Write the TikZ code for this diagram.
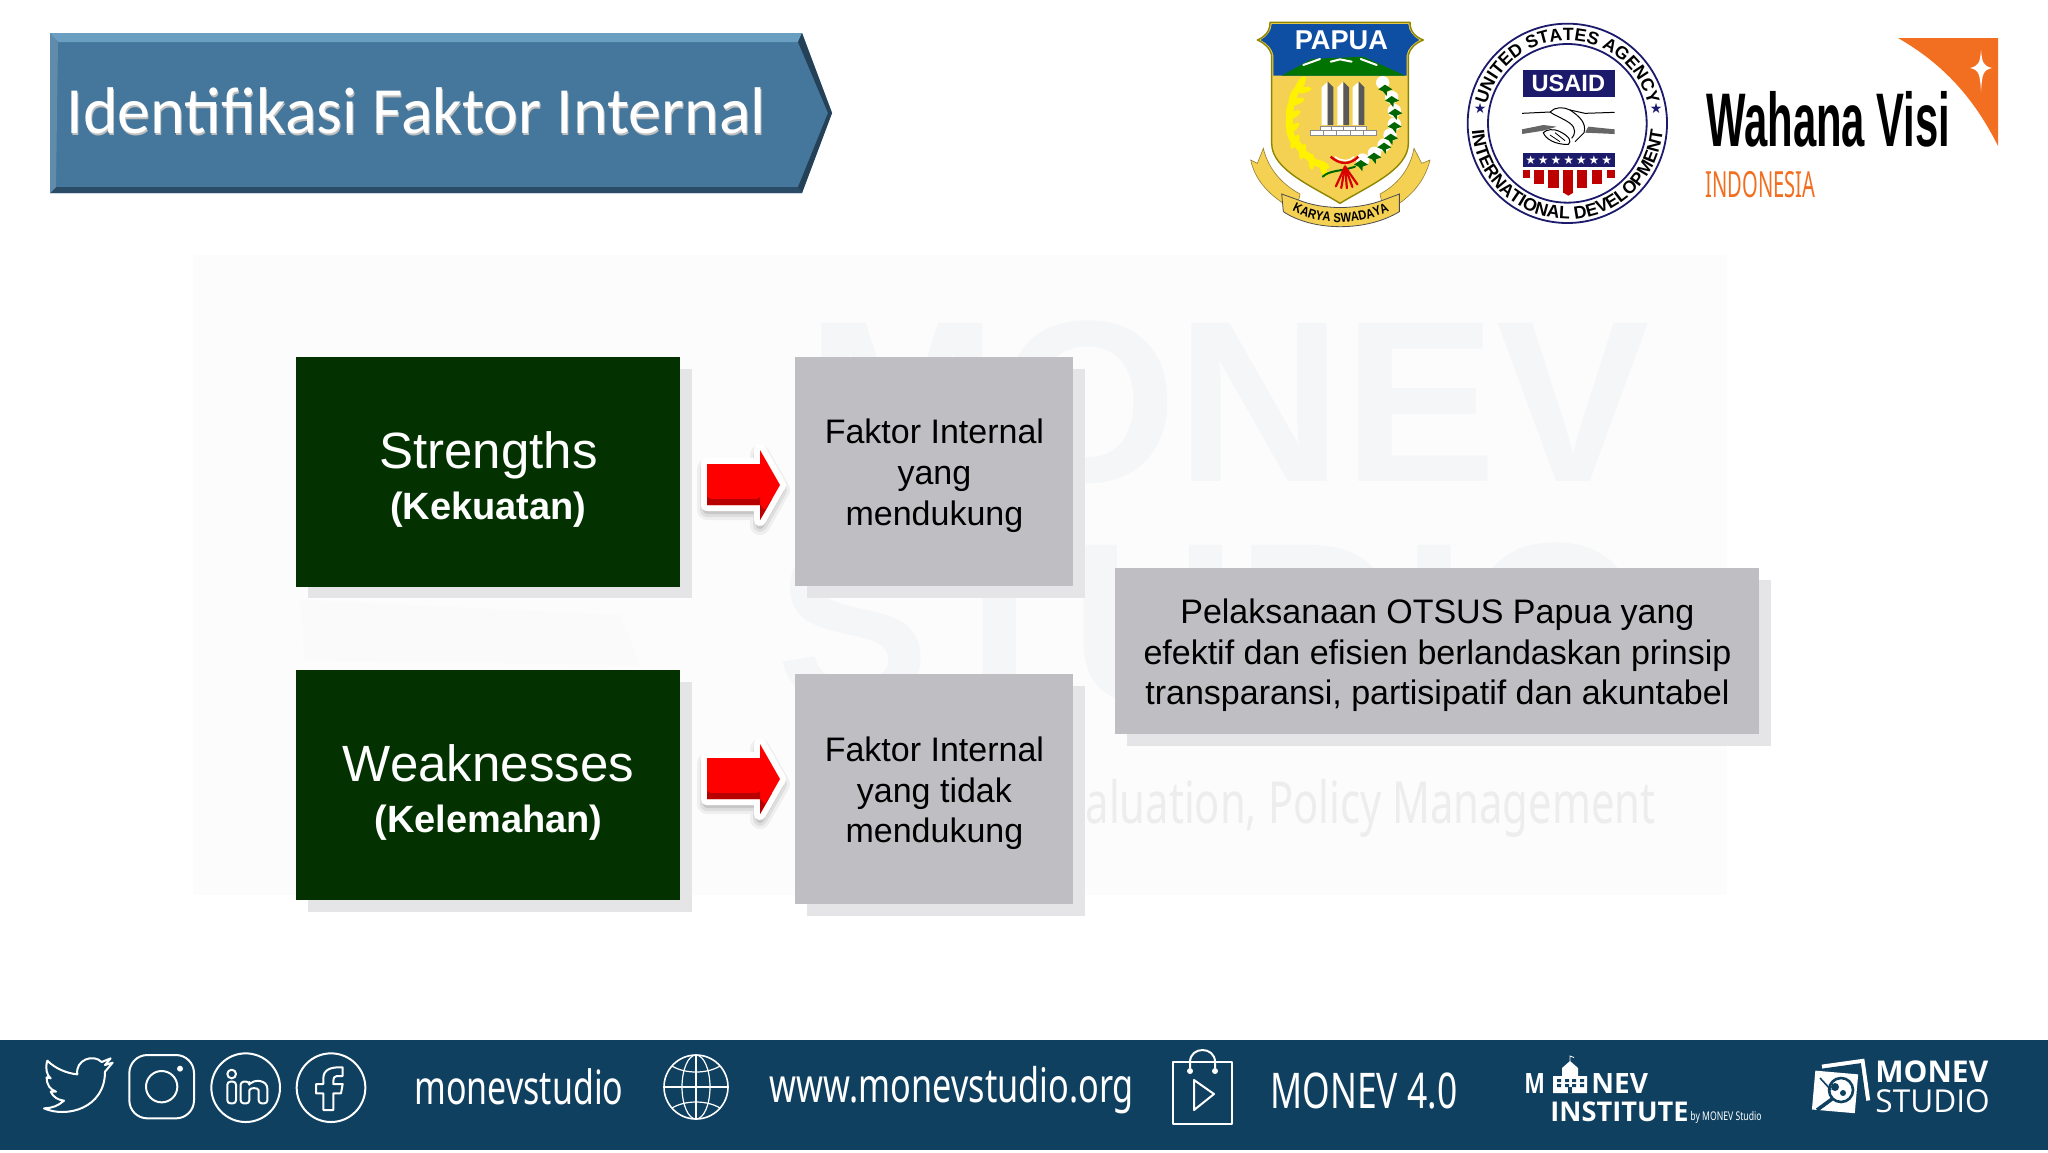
\documentclass[tikz,border=0pt]{standalone}
\usepackage{fontspec}
\usetikzlibrary{decorations.text,shapes.geometric}
\setmainfont{Liberation Sans}
\newfontfamily\ar{Liberation Sans}
\newfontfamily\car{Carlito}
\newfontfamily\cond[FakeStretch=0.72]{Noto Sans}
\newfontfamily\indfont[FakeStretch=0.56]{Noto Sans}
\newfontfamily\wvfont[FakeStretch=0.55]{Liberation Sans}
\newfontfamily\nar[FakeStretch=0.85]{Liberation Sans}
\newfontfamily\logoh{Open Sans}
\newfontfamily\djv{DejaVu Sans}
\newcommand{\fz}[1]{\fontsize{#1}{#1}\selectfont}
\newcommand{\lowerstrut}{\rule{0pt}{16.2pt}}
\newcommand{\bigstrut}{\rule{0pt}{25.5pt}}
\definecolor{barblue}{HTML}{0F4060}
\definecolor{titleblue}{HTML}{44779B}
\definecolor{titlelight}{HTML}{6A9FC2}
\definecolor{titledark}{HTML}{2B4C66}
\definecolor{boxgreen}{HTML}{033100}
\definecolor{boxgrey}{HTML}{BFBEC2}
\definecolor{shadowgrey}{HTML}{E5E5E7}
\definecolor{navy}{HTML}{1B1A6B}
\definecolor{shieldgold}{HTML}{F5D153}
\definecolor{shieldblue}{HTML}{0F4FA3}
\definecolor{orangewv}{HTML}{F26F21}
\definecolor{wm}{HTML}{F4F6F8}
\tikzset{
  greenbox/.style={fill=boxgreen,text=white,inner sep=0pt,align=center,minimum width=192pt,minimum height=115pt,anchor=north west,font=\ar\fontsize{19}{25.6}\selectfont},
  greybox/.style={fill=boxgrey,text=black,inner sep=0pt,align=center,anchor=north west,font=\ar\fontsize{17}{20.4}\selectfont},
  shadowbox/.style={fill=shadowgrey},
  iconline/.style={draw=white,line width=1pt,line join=round},
  bartext/.style={text=white,inner sep=0pt},
}
\newcommand{\blockarrow}[1]{%
  \begin{scope}[shift={(0,#1)}]
    \foreach \w/\o in {10/.05,7/.07,4/.1}{
      \path[draw=black,draw opacity=\o,line width=\w pt,line join=round] (707,469)--(760,469)--(760,455)--(780,490)--(760,525)--(760,510)--(707,510)--cycle;}
    \path[fill=white,draw=white,line width=6pt,line join=round] (707,464)--(760,464)--(760,450)--(780,485)--(760,520)--(760,505)--(707,505)--cycle;
    \path[fill=red] (707,464)--(760,464)--(760,450)--(780,485)--(760,520)--(760,505)--(707,505)--cycle;
    \path[fill=red!72!black] (707,497)--(711,499)--(757,499)--(760,497)--(760,505)--(707,505)--cycle;
    \path[fill=red!72!black] (760,520)--(760,505)--(765,510)--(772,499)--cycle;
  \end{scope}}
\begin{document}
\begin{tikzpicture}[x=0.5pt,y=-0.5pt]
\useasboundingbox (0,0) rectangle (2048,1152);
\fill[white] (0,0) rectangle (2048,1152);

% faint watermark
\fill[black!1.2] (193,255) rectangle (1727,895);
\fill[black!2] (300,600) -- (620,615) -- (640,665) -- (305,660) -- cycle;
\node[anchor=north west,inner sep=0pt,text=wm,font=\ar\bfseries\fz{115}] (wmA) at (806,320) {MONEV};
\node[anchor=north west,inner sep=0pt,text=wm,font=\ar\bfseries\fz{115}] (wmB) at (776,542) {STUDIO};
\node[anchor=east,inner sep=0pt,text=black!7,font=\cond\fz{29}] (wmC) at (1656,808) {Monitoring, Evaluation, Policy Management};

% title
\fill[titleblue] (50,33) -- (802,33) -- (832,113) -- (802,193) -- (50,193) -- cycle;
\fill[titlelight] (50,33) -- (802,33) -- (798,42) -- (58,42) -- cycle;
\fill[titledark] (50,193) -- (802,193) -- (798,187) -- (56,187) -- cycle;
\fill[titledark!85!black] (802,33) -- (832,113) -- (828,113) -- (798,42) -- cycle;
\fill[titledark!85!black] (802,193) -- (832,113) -- (828,113) -- (798,187) -- cycle;
\fill[titleblue!85!white] (50,33) -- (58,42) -- (56,187) -- (50,193) -- cycle;
\node[anchor=west,inner sep=0pt,text=black!25,font=\car\fz{33}] at (67,113) {Identifikasi Faktor Internal};
\node[anchor=west,inner sep=0pt,text=white,font=\car\fz{33}] (title) at (66,111) {Identifikasi Faktor Internal};

% boxes
\fill[shadowbox] (308,369) rectangle (692,598);
\fill[shadowbox] (308,682) rectangle (692,912);
\fill[shadowbox] (807,369) rectangle (1085,598);
\fill[shadowbox] (807,686) rectangle (1085,916);
\fill[shadowbox] (1127,580) rectangle (1771,746);
\node[greenbox] (s) at (296,357) {\bigstrut\fontsize{25.5}{25.6}\selectfont Strengths\\\bfseries\fontsize{19}{25.6}\selectfont(Kekuatan)};
\node[greenbox] (w) at (296,670) {\bigstrut\fontsize{25.5}{25.6}\selectfont Weaknesses\\\bfseries\fontsize{19}{25.6}\selectfont(Kelemahan)};
\node[greybox,minimum width=139pt,minimum height=114.5pt] (f1) at (795,357) {\lowerstrut Faktor Internal\\yang\\mendukung};
\node[greybox,minimum width=139pt,minimum height=115pt] (f2) at (795,674) {\lowerstrut Faktor Internal\\yang tidak\\mendukung};
\node[greybox,minimum width=322pt,minimum height=83pt] (p) at (1115,568) {\lowerstrut Pelaksanaan OTSUS Papua yang\\efektif dan efisien berlandaskan prinsip\\transparansi, partisipatif dan akuntabel};

\blockarrow{0}
\blockarrow{294}

% Papua crest
\begin{scope}[shift={(1240,10)},x=0.16667pt,y=-0.16667pt]
  \path[fill=shieldgold,draw=black!40!shieldgold,line width=.3pt] (32,450) -- (52,460) -- (70,415) .. controls (85,480) and (130,525) .. (180,552) -- (175,575) -- (130,580) .. controls (85,550) and (45,510) .. (32,450) -- cycle;
  \path[fill=shieldgold,draw=black!40!shieldgold,line width=.3pt] (570,450) -- (545,460) -- (522,415) .. controls (510,480) and (470,525) .. (420,552) -- (425,575) -- (478,580) .. controls (520,550) and (555,510) .. (570,450) -- cycle;
  \path[fill=shieldgold,draw=black!70,line width=.4pt] (125,552) -- (175,570) .. controls (250,600) and (350,600) .. (430,570) -- (478,552) -- (478,605) .. controls (380,665) and (220,665) .. (130,605) -- cycle;
  \path[decorate,decoration={text along path,text align=center,text={|\nar\bfseries\fz{6.6}|KARYA SWADAYA}}] (150,598) .. controls (240,650) and (360,650) .. (455,598);
  \path[fill=shieldgold,draw=olive,line width=.7pt,line join=round] (90,37) -- (510,37) .. controls (510,65) and (525,80) .. (550,90) .. controls (525,100) and (510,115) .. (505,135) -- (505,400) .. controls (505,480) and (380,530) .. (300,580) .. controls (220,530) and (95,480) .. (95,400) -- (95,135) .. controls (90,115) and (75,100) .. (52,90) .. controls (75,80) and (90,65) .. (90,37) -- cycle;
  \fill[shieldblue] (95,42) -- (505,42) .. controls (505,62) and (520,80) .. (538,90) .. controls (520,100) and (503,115) .. (500,135) -- (500,197) -- (100,197) -- (100,135) .. controls (97,115) and (80,100) .. (62,90) .. controls (80,80) and (95,62) .. (95,42) -- cycle;
  \fill[green!45!black] (125,197) -- (215,147) -- (370,140) -- (495,197) -- cycle;
  \draw[white,line width=1pt,line cap=round] (190,165) -- (240,147) (272,155) -- (300,148) -- (335,155) (362,147) -- (410,165);
  \node[text=white,inner sep=0pt,font=\ar\bfseries\fz{13.6}] (papua) at (304,92) {PAPUA};
  % laurel
  \foreach \xa/\ya/\ra in {180/225/60,160/260/70,150/300/80,148/340/90,155/380/110,178/410/125,205/440/140,240/462/160}{
    \fill[yellow] (\xa,\ya) ellipse[x radius=30,y radius=11,rotate=\ra];
    \fill[yellow] (\xa+10,\ya+15) ellipse[x radius=24,y radius=9,rotate=\ra-50];
  }
  % obelisks
  \foreach \xa in {245,292,338}{
    \fill[white] (\xa,345) -- (\xa,232) -- (\xa+18,215) -- (\xa+18,345) -- cycle;
    \fill[black!65] (\xa+18,345) -- (\xa+18,215) -- (\xa+35,232) -- (\xa+35,345) -- cycle;
  }
  \foreach \xa in {240,275,310,345}{\draw[black!45,fill=white,line width=.3pt] (\xa,350) rectangle (\xa+35,362);}
  \foreach \xa in {210,250,290,330,370}{\draw[black!45,fill=white,line width=.3pt] (\xa,362) rectangle (\xa+40,376);}
  % cotton
  \foreach \xa/\ya in {428/228,455/272,463/312,463/352,450/385,432/415,403/440,368/460}{
    \fill[white] (\xa,\ya-10) circle[radius=20];
  }
  \foreach \xa/\ya in {435/238,455/272,465/310,463/350,452/385,432/412,402/442,362/464}{
    \fill[green!40!black] (\xa-20,\ya) -- (\xa,\ya-14) -- (\xa+22,\ya) -- (\xa+6,\ya+6) -- (\xa+5,\ya+20) -- (\xa-6,\ya+6) -- cycle;
  }
  \draw[green!40!black,line width=1pt,line cap=round] (248,500) .. controls (270,480) and (300,485) .. (345,470);
  % knot
  \foreach \a in {-35,-20,-5,10,25}{
    \draw[red!85!black,line width=1.1pt,line cap=round] (315,470) -- ++({\a-90}:-65);
  }
  \draw[red!85!black,line width=1.2pt] (272,440) .. controls (300,465) and (330,465) .. (355,440);
  \draw[white,line width=.7pt] (285,440) .. controls (300,455) and (330,455) .. (342,440);
\end{scope}

% USAID seal
\begin{scope}[shift={(1460,10)},x=0.16667pt,y=-0.16667pt]
  \draw[navy,line width=.9pt] (322,340) circle[radius=299];
  \draw[navy,line width=.9pt] (322,340) circle[radius=238];
  \path[decorate,decoration={text along path,text align=center,text={|\ar\bfseries\fz{8.9}|UNITED STATES AGENCY}}] plot[domain=178:2,samples=60] ({322+249*cos(\x)},{340-249*sin(\x)});
  \path[decorate,decoration={text along path,text align=center,text={|\ar\bfseries\fz{8.9}|INTERNATIONAL DEVELOPMENT}}] plot[domain=178:362,samples=60] ({322+287*cos(\x)},{340-287*sin(\x)});
  \node[text=navy,inner sep=0pt,font=\djv\fz{7}] (sl) at (60,295) {★};
  \node[text=navy,inner sep=0pt,font=\djv\fz{7}] (sr) at (588,295) {★};
  \fill[navy] (188,180) rectangle (464,260);
  \node[text=white,inner sep=0pt,font=\ar\bfseries\fz{11.8}] (usaid) at (325,220) {USAID};
  % hands
  \draw[black,line width=.5pt] (186,310) -- (270,306) .. controls (285,290) and (310,290) .. (330,300) -- (375,310) -- (464,307);
  \draw[black,line width=.5pt] (270,306) .. controls (290,320) and (310,325) .. (330,340) .. controls (350,355) and (345,375) .. (335,385);
  \draw[black,line width=.5pt] (330,300) .. controls (360,320) and (380,340) .. (372,368) -- (345,395);
  \fill[black!60] (186,358) -- (250,345) -- (290,350) -- (250,362) -- (186,372) -- cycle;
  \fill[black!60] (385,350) -- (464,358) -- (464,372) -- (375,368) -- cycle;
  \draw[black,line width=.5pt,fill=white] (250,368) .. controls (255,385) and (285,405) .. (325,403) .. controls (335,395) and (330,380) .. (300,365) .. controls (280,355) and (260,358) .. (250,368) -- cycle;
  \draw[black,line width=.4pt] (270,375) -- (300,395) (285,368) -- (315,392);
  % flag
  \fill[navy] (188,430) rectangle (464,472);
  \foreach \xa in {212,250,288,326,364,402,440}{\node[text=white,inner sep=0pt,font=\djv\fz{6}] at (\xa,451) {★};}
  \foreach \xa/\xb/\yb in {188/210/505,222/252/522,265/297/535,310/340/548,352/382/535,396/425/522,440/464/505}{
    \fill[red!75!black] (\xa,480) -- (\xb,480) -- (\xb,\yb) -- (\xa,\yb) -- cycle;
  }
  \fill[red!75!black] (310,548) -- (325,557) -- (340,548) -- cycle;
\end{scope}

% Wahana Visi
\fill[orangewv] (1898,38) -- (1998,38) -- (1998,146) .. controls (1975,100) and (1945,65) .. (1898,38) -- cycle;
\fill[white] (1981,50) .. controls (1982,62) and (1983,66) .. (1992,68) .. controls (1983,70) and (1982,74) .. (1981,92) .. controls (1980,74) and (1979,70) .. (1970,68) .. controls (1979,66) and (1980,62) .. (1981,50) -- cycle;
\node[anchor=west,inner sep=0pt,text=black,font=\wvfont\bfseries\fz{38}] (wv) at (1706,119) {Wahana Visi};
\node[anchor=west,inner sep=0pt,text=orangewv,font=\indfont\fz{18}] (ind) at (1705,185) {INDONESIA};

% footer bar
\fill[barblue] (0,1040) rectangle (2048,1150);
\begin{scope}[shift={(30,1040)},x=0.16667pt,y=-0.16667pt]
  \draw[iconline] (42,205) .. controls (110,235) and (225,205) .. (225,95) -- (248,68) -- (225,75) -- (242,55) -- (215,66) .. controls (190,40) and (135,60) .. (142,103) .. controls (110,100) and (75,85) .. (52,62) .. controls (45,85) and (50,105) .. (62,115) -- (50,112) .. controls (50,135) and (60,148) .. (78,155) -- (62,155) .. controls (70,172) and (85,180) .. (102,182) .. controls (85,197) and (65,205) .. (42,205) -- cycle;
  \draw[iconline,rounded corners=9pt] (298,45) rectangle (492,235);
  \draw[iconline] (395,140) circle[radius=47];
  \fill[white] (450,86) circle[radius=9];
  \draw[iconline] (647,143) circle[radius=103];
  \draw[iconline] (605,102) circle[radius=13];
  \draw[iconline,rounded corners=1.5pt] (592,125) rectangle (618,190);
  \draw[iconline,rounded corners=1.5pt] (632,190) -- (632,125) -- (658,125) -- (658,135) .. controls (675,118) and (712,120) .. (712,155) -- (712,190) -- (686,190) -- (686,160) .. controls (686,142) and (658,142) .. (658,160) -- (658,190) -- cycle;
  \draw[iconline] (903,143) circle[radius=103];
  \draw[iconline] (880,210) -- (880,160) -- (858,160) -- (858,132) -- (880,132) -- (880,115) .. controls (880,90) and (900,80) .. (938,82) -- (938,108) -- (920,108) .. controls (912,108) and (910,112) .. (910,132) -- (938,132) -- (933,160) -- (910,160) -- (910,210) -- cycle;
\end{scope}
\node[bartext,font=\cond\fz{23.6}] (mv) at (519,1087) {monevstudio};
% globe
\draw[iconline,line width=.8pt] (696,1087) circle[radius=32];
\draw[iconline,line width=.6pt] (696,1087) ellipse[x radius=14,y radius=32];
\draw[iconline,line width=.6pt] (696,1055) -- (696,1119) (664,1087) -- (728,1087);
\draw[iconline,line width=.6pt] (672,1066) .. controls (685,1074) and (707,1074) .. (720,1066) (672,1108) .. controls (685,1100) and (707,1100) .. (720,1108);
\node[bartext,font=\cond\fz{23.8}] (www) at (952,1090) {www.monevstudio.org};
% bag
\draw[iconline] (1173,1062) rectangle (1232,1124);
\draw[iconline] (1190,1068) -- (1190,1062) .. controls (1190,1046) and (1215,1046) .. (1215,1062) -- (1215,1068);
\fill[white] (1190,1071) circle[radius=3] (1215,1071) circle[radius=3];
\draw[iconline] (1194,1080) -- (1214,1094) -- (1194,1110) -- cycle;
\node[bartext,font=\cond\fz{24.6}] (m4) at (1364,1091) {MONEV 4.0};
% Monev Institute
\node[bartext,font=\logoh\bfseries\fz{14},anchor=west] (mi1) at (1524,1083) {\scalebox{.78}[1]{M}};
\node[bartext,font=\logoh\bfseries\fz{14},anchor=west] (mi2) at (1591,1083) {NEV};
\node[bartext,font=\logoh\bfseries\fz{13.6},anchor=west] (mi3) at (1550,1112) {INSTITUTE};
\node[bartext,font=\cond\fz{6},anchor=west] (mi4) at (1690,1117) {by MONEV Studio};
\fill[white] (1553,1076) -- (1562,1076) -- (1562,1068) -- (1570,1061) -- (1578,1068) -- (1578,1076) -- (1587,1076) -- (1587,1093) -- (1553,1093) -- cycle;
\draw[white,line width=.4pt] (1570,1061) -- (1570,1056) -- (1574,1057.5);
\foreach \xa in {1557,1565,1572,1580}{\fill[barblue] (\xa,1079) rectangle +(4,3) (\xa,1084) rectangle +(4,3);}
\fill[barblue] (1568,1087) rectangle (1572,1093);
% Monev Studio
\fill[white,rotate around={8:(1842,1087)}] (1825,1062) rectangle (1868,1104);
\fill[barblue,rotate around={8:(1842,1087)}] (1822,1066) rectangle (1864,1108);
\fill[white,rotate around={-5:(1842,1087)}] (1814,1073) rectangle (1857,1112);
\draw[barblue,line width=1.3pt] (1841,1090) circle[radius=12];
\fill[barblue] (1835,1087) circle[radius=4] (1843,1093) circle[radius=3];
\draw[barblue,line width=1.8pt] (1832,1099) -- (1817,1110);
\draw[barblue,line width=.8pt] (1820,1078) -- (1831,1090);
\node[bartext,font=\logoh\bfseries\fz{15},anchor=west] (ms1) at (1875,1072) {MONEV};
\node[bartext,font=\logoh\fz{15.8},anchor=west] (ms2) at (1875,1101) {STUDIO};
\end{tikzpicture}
\end{document}
